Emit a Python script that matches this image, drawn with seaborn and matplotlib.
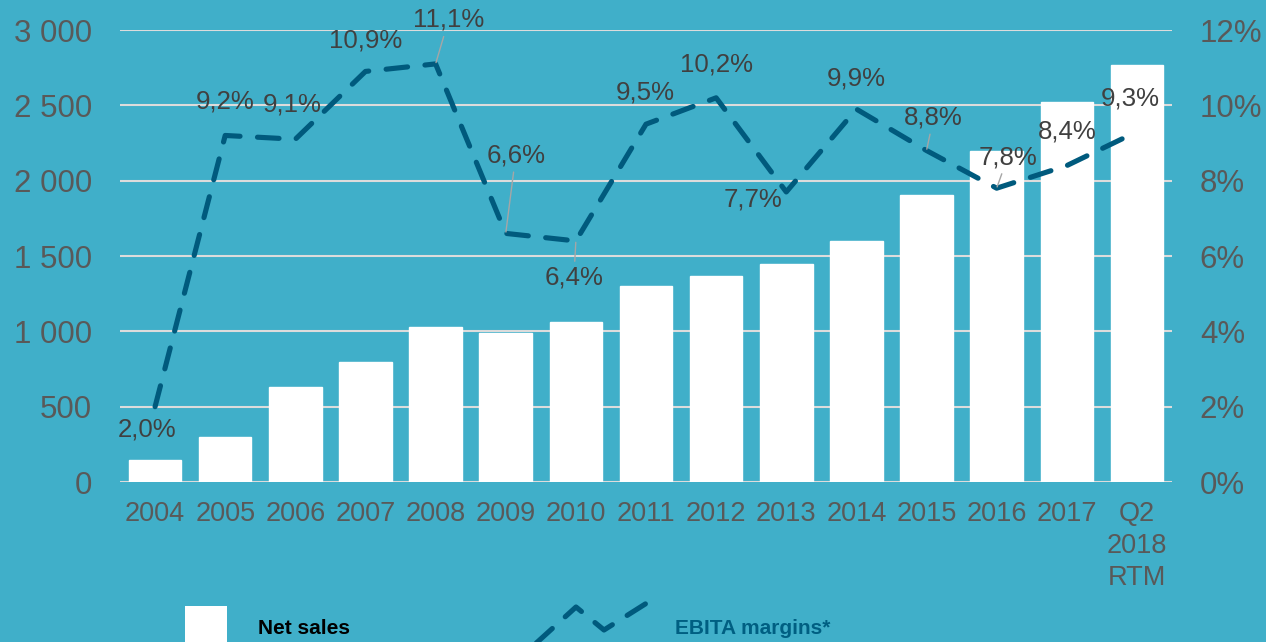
import numpy as np
import pandas as pd
import matplotlib
matplotlib.use("Agg")
import matplotlib.pyplot as plt
import seaborn as sns
from matplotlib.lines import Line2D
from matplotlib.patches import Rectangle
from matplotlib.ticker import FixedLocator

# ---- data ----
categories = ["2004", "2005", "2006", "2007", "2008", "2009", "2010", "2011",
              "2012", "2013", "2014", "2015", "2016", "2017", "Q2\n2018\nRTM"]
net_sales = [146, 299, 630, 796, 1028, 989, 1062, 1300, 1367, 1447, 1600, 1905, 2196, 2522, 2767]
ebita_margin = [2.0, 9.2, 9.1, 10.9, 11.1, 6.6, 6.4, 9.5, 10.2, 7.7, 9.9, 8.8, 7.8, 8.4, 9.3]
left_ticks = [0, 500, 1000, 1500, 2000, 2500, 3000]
left_labels = ["0", "500", "1 000", "1 500", "2 000", "2 500", "3 000"]
right_ticks = [0, 2, 4, 6, 8, 10, 12]
right_labels = ["0%", "2%", "4%", "6%", "8%", "10%", "12%"]
margin_labels = ["2,0%", "9,2%", "9,1%", "10,9%", "11,1%", "6,6%", "6,4%", "9,5%",
                 "10,2%", "7,7%", "9,9%", "8,8%", "7,8%", "8,4%", "9,3%"]
# label offsets in pixels (dx, dy) and whether a leader line is drawn
label_offsets = [(-8, -23), (0, 34), (-3, 35), (0, 31), (13, 44), (10, 78), (-2, -37),
                 (-1, 32), (0, 33), (-33, -8), (0, 31), (7, 33), (11, 31), (0, 34), (-7, 33)]
leaders = [False, False, False, False, True, True, True, False, False, False,
           False, True, True, False, False]

BG = "#40AFC9"
LINE = "#005A7D"
TICK = "#595959"
LABEL = "#404040"
GRID = "#DCDCDC"
DASH = (0, (4.2, 3.4))

sns.set_theme(style="white")
plt.rcParams["font.family"] = ["Liberation Sans", "DejaVu Sans"]

W, H = 1266, 642
fig = plt.figure(figsize=(W / 100, H / 100), dpi=100)
fig.patch.set_facecolor(BG)

ax = fig.add_axes([120 / W, 1 - 482 / H, (1172 - 120) / W, (482 - 30) / H])
ax.set_facecolor(BG)

df = pd.DataFrame({"cat": categories, "sales": net_sales})
sns.barplot(data=df, x="cat", y="sales", color="white", saturation=1, width=0.75,
            ax=ax, zorder=2)
ax.set_xlim(-0.5, len(categories) - 0.5)
ax.set_ylim(0, 3000)
ax.yaxis.set_major_locator(FixedLocator(left_ticks))
ax.set_yticklabels(left_labels)
ax.set_xlabel("")
ax.set_ylabel("")
ax.grid(axis="y", color=GRID, linewidth=1.5, zorder=0)
ax.set_axisbelow(True)
for s in ax.spines.values():
    s.set_visible(False)
ax.tick_params(axis="y", length=0, pad=20, labelsize=22.5, labelcolor=TICK)
ax.tick_params(axis="x", length=0, pad=14, labelsize=19.5, labelcolor=TICK)
for t in ax.get_xticklabels():
    t.set_linespacing(1.3)

ax2 = ax.twinx()
x = np.arange(len(categories))
sns.lineplot(x=x, y=ebita_margin, ax=ax2, color=LINE, linewidth=3.7, zorder=3)
ln = ax2.lines[0]
ln.set_linestyle(DASH)
ln.set_dash_capstyle("round")
ax2.set_ylim(0, 12)
ax2.set_xlim(-0.5, len(categories) - 0.5)
ax2.yaxis.set_major_locator(FixedLocator(right_ticks))
ax2.set_yticklabels(right_labels)
ax2.tick_params(axis="y", length=0, pad=20, labelsize=22.5, labelcolor=TICK)
ax2.set_ylabel("")
for s in ax2.spines.values():
    s.set_visible(False)

for xi, yi, lab, (dx, dy), lead in zip(x, ebita_margin, margin_labels, label_offsets, leaders):
    kw = {}
    if lead:
        kw["arrowprops"] = dict(arrowstyle="-", color="#A6A6A6", lw=1.0,
                                shrinkA=1, shrinkB=1)
    ax2.annotate(lab, xy=(xi, yi), xytext=(dx, dy), textcoords="offset pixels",
                 ha="center", va="center", fontsize=18.6, color=LABEL, zorder=5, **kw)

# ---- legend (drawn in figure pixels) ----
def fx(px):
    return px / W

def fy(py):
    return 1 - py / H

fig.patches.append(Rectangle((fx(185), fy(642)), fx(227) - fx(185), fy(606) - fy(642),
                             transform=fig.transFigure, facecolor="white", edgecolor="none"))
fig.text(fx(258), fy(628), "Net sales", fontsize=15, fontweight="bold", color="black",
         ha="left", va="center")
zx = [533, 576, 604, 650]
zy = [646, 607, 630, 601]
fig.lines.append(Line2D([fx(v) for v in zx], [fy(v) for v in zy], transform=fig.transFigure,
                        color=LINE, linewidth=3.7, linestyle=DASH,
                        dash_capstyle="round"))
fig.text(fx(675), fy(628), "EBITA margins*", fontsize=15, fontweight="bold", color="#005F82",
         ha="left", va="center")

fig.savefig("out.png", dpi=100, facecolor=BG)
